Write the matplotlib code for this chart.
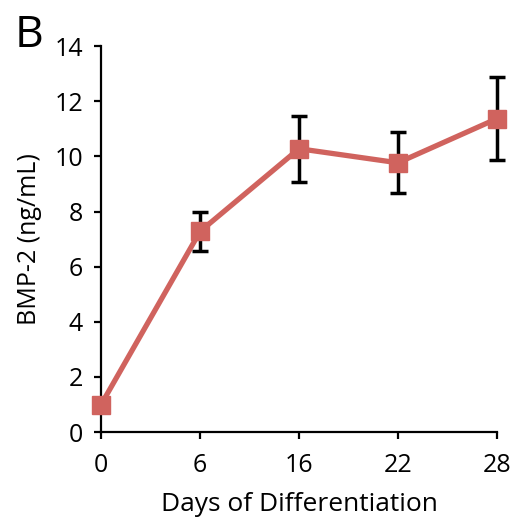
import numpy as np
import matplotlib
matplotlib.use("Agg")
import matplotlib.pyplot as plt

days = ["0", "6", "16", "22", "28"]
bmp2 = [1.0, 7.28, 10.28, 9.77, 11.37]
err_low = [0.2, 0.7, 1.2, 1.1, 1.5]
err_high = [0.2, 0.7, 1.2, 1.1, 1.5]

plt.rcParams['font.family'] = ['Open Sans', 'DejaVu Sans']

fig = plt.figure(figsize=(5.16, 5.25), dpi=100)
ax = fig.add_axes([0.196, 0.177, 0.767, 0.735])

x = np.arange(len(days))
ax.errorbar(x, bmp2, yerr=[err_low, err_high], fmt='none', ecolor='black',
            elinewidth=2.5, capsize=5.8, capthick=2.5, zorder=2)
ax.plot(x, bmp2, color='#D0635E', lw=3.8, marker='s', markersize=13.5, zorder=3)

ax.set_xlim(0, 4)
ax.set_ylim(0, 14)
ax.set_yticks(range(0, 15, 2))
ax.set_xticks(x)
ax.set_xticklabels(days)
for s in ['top', 'right']:
    ax.spines[s].set_visible(False)
for s in ['left', 'bottom']:
    ax.spines[s].set_linewidth(1.6)
ax.tick_params(axis='x', pad=10)
ax.tick_params(axis='y', pad=8)
ax.tick_params(axis='both', direction='out', length=5, width=1.6, labelsize=18)
ax.set_xlabel("Days of Differentiation", fontsize=19, labelpad=10)
ax.set_ylabel("BMP-2 (ng/mL)", fontsize=18, labelpad=9)
fig.text(0.028, 0.91, "B", fontsize=32)

ax.margins(0)
for artist in ax.get_children():
    artist.set_clip_on(False)

fig.savefig("out.png", dpi=100)
